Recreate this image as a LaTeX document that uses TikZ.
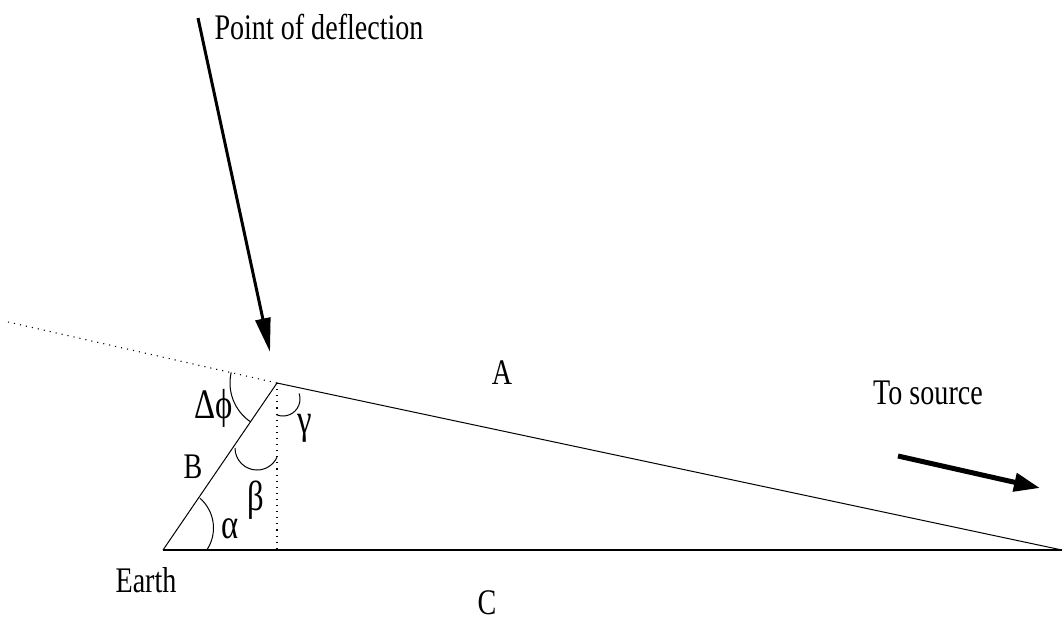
\documentclass[tikz,border=0pt]{standalone}
\usepackage{fontspec}
\setmainfont{Liberation Serif}
\usetikzlibrary{arrows.meta}
\tikzset{
  lbl/.style={inner sep=0pt, font=\fontsize{18}{18}\selectfont},
  glbl/.style={inner sep=0pt, font=\fontsize{21}{21}\selectfont},
  thin line/.style={line width=0.5pt},
  dotline/.style={line width=0.55pt, dash pattern=on 0.55pt off 2.5pt},
  bigarrow/.style={line width=1.5pt, -{Triangle[length=17pt,width=7.5pt]}},
  srcarrow/.style={line width=2.5pt, -{Triangle[length=13pt,width=9pt]}},
}
\newcommand{\sq}[1]{\scalebox{0.78}[1]{#1}}
\begin{document}
\begin{tikzpicture}[x=0.5pt,y=0.5pt]
\useasboundingbox (0,0) rectangle (1064,-622);
\coordinate (E) at (163,-550);
\coordinate (D) at (277,-383);
\coordinate (R) at (1062,-550);
\coordinate (L) at (8,-322);
\coordinate (F) at (277,-550);
\coordinate (P0) at (198,-18);
\coordinate (P1) at (270,-352);
\coordinate (S0) at (898,-456);
\coordinate (S1) at (1040,-488);
\coordinate (ca) at (174,-528);
\coordinate (cb) at (257,-448);
\coordinate (cg) at (283,-399);
% triangle
\draw[thin line] (E) -- (D) -- (R);
\draw[line width=0.8pt] (E) -- (R);
\draw[dotline] (L) -- (D);
\draw[dotline] (D) -- (F);
% arcs
\draw[thin line] ([shift={(-33.7:19.75pt)}]ca) arc[start angle=-33.7,end angle=49,radius=19.75pt];
\draw[thin line] ([shift={(167:23.5pt)}]D) arc[start angle=167,end angle=235.8,radius=23.5pt];
\draw[thin line] ([shift={(180:11pt)}]cb) arc[start angle=180,end angle=335,radius=11pt];
\draw[thin line] ([shift={(248:8.5pt)}]cg) arc[start angle=248,end angle=379,radius=8.5pt];
% arrows
\draw[bigarrow] (P0) -- (P1);
\draw[srcarrow] (S0) -- (S1);
% labels
\node[lbl] (pod) at (319,-27) {\sq{Point of deflection}};
\node[glbl] (dphi) at (214,-408) {\sq{Δϕ}};
\node[glbl] (gam) at (305,-428) {\sq{γ}};
\node[lbl] (Bl) at (193,-467) {\sq{B}};
\node[glbl] (bet) at (256,-500) {\sq{β}};
\node[glbl] (alp) at (230,-529) {\sq{α}};
\node[lbl] (Al) at (502,-373) {\sq{A}};
\node[lbl] (Cl) at (487,-603) {\sq{C}};
\node[lbl] (earth) at (146,-580) {\sq{Earth}};
\node[lbl] (src) at (928,-393) {\sq{To source}};
\end{tikzpicture}
\end{document}
